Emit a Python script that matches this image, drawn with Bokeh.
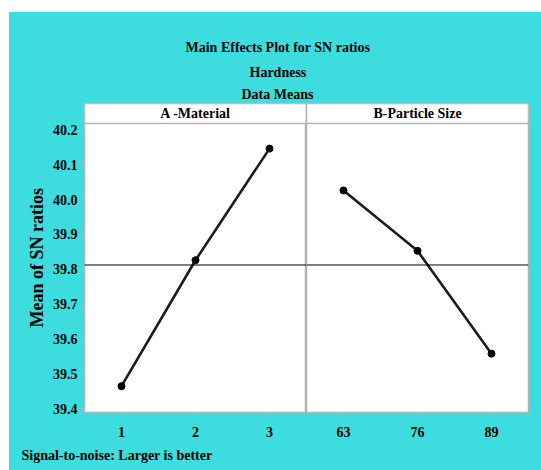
from bokeh.plotting import figure
from bokeh.models import Range1d, FactorRange, FixedTicker, Span, Title, NumeralTickFormatter
from bokeh.layouts import row, column
from bokeh.core.properties import value
from bokeh.embed import file_html
from bokeh.resources import INLINE

# ---- data ----
material_levels = ["1", "2", "3"]
material_sn = [39.465, 39.826, 40.146]
size_levels = ["63", "76", "89"]
size_sn = [40.026, 39.853, 39.558]
panel_names = ["A -Material", "B-Particle Size"]
y_ticks = [39.4, 39.5, 39.6, 39.7, 39.8, 39.9, 40.0, 40.1, 40.2]
title_lines = ["Main Effects Plot for SN ratios", "Hardness", "Data Means"]
y_label = "Mean of SN ratios"
footer_text = "Signal-to-noise: Larger is better"

grand_mean = sum(material_sn + size_sn) / len(material_sn + size_sn)

CYAN = "#3DDDDF"
GRAY = "#b4b4b4"
FONT = "Liberation Serif"


def style_title(t):
    t.text_font = FONT
    t.text_font_style = "bold"
    t.text_color = "black"
    return t


# ---- header (titles + strips) ----
hdr = figure(width=532, height=111, x_range=FactorRange(factors=panel_names), y_range=Range1d(0, 1),
             output_backend="svg", toolbar_location=None,
             x_axis_location=None, y_axis_location=None,
             min_border_left=75, min_border_right=13, min_border_top=91, min_border_bottom=0)
hdr.border_fill_color = CYAN
hdr.background_fill_color = "white"
hdr.outline_line_color = GRAY
hdr.outline_line_width = 1.5
hdr.grid.visible = False
hdr.vbar(x=panel_names, top=1, bottom=0, width=1, fill_color="white", line_color=GRAY, line_width=1.5)
hdr.text(x=panel_names, y=[0.5, 0.5], text=panel_names, text_font=value(FONT), text_font_style="bold",
         text_font_size="14px", text_align="center", text_baseline="middle", text_color="black")
# first added sits closest to the frame; left-aligned with offsets so they centre on the panel
for line, so, off in zip(reversed(title_lines), [3, 8, 7], [157, 165, 101]):
    hdr.add_layout(style_title(Title(text=line, align="left", offset=off, standoff=so,
                                     text_font_size="14px")), "above")


def panel(levels, vals, width, left, right, show_y):
    p = figure(width=width, height=347, x_range=FactorRange(factors=levels),
               y_range=Range1d(39.3894, 40.218),
               output_backend="svg", toolbar_location=None,
               y_axis_location="left" if show_y else None,
               min_border_left=left, min_border_right=right, min_border_top=0, min_border_bottom=58)
    p.border_fill_color = CYAN
    p.background_fill_color = "white"
    p.outline_line_color = GRAY
    p.outline_line_width = 1.5
    p.grid.visible = False
    for ax in p.axis:
        ax.axis_line_color = GRAY
        ax.major_tick_line_color = GRAY
        ax.major_tick_out = 4
        ax.major_tick_in = 0
        ax.minor_tick_line_color = None
        ax.major_label_text_font = FONT
        ax.major_label_text_font_style = "bold"
        ax.major_label_text_font_size = "14px"
        ax.major_label_text_color = "black"
    p.xaxis.major_label_standoff = 10
    if show_y:
        p.yaxis.ticker = FixedTicker(ticks=y_ticks)
        p.yaxis.formatter = NumeralTickFormatter(format="0.0")
        p.yaxis.major_label_standoff = 3
    p.add_layout(Span(location=grand_mean, dimension="width", line_color="black", line_width=1))
    p.line(x=levels, y=vals, line_color="#1c1c1c", line_width=2.6)
    p.scatter(x=levels, y=vals, size=7, fill_color="black", line_color="black")
    return p


pa = panel(material_levels, material_sn, 297, 75, 0, True)
pb = panel(size_levels, size_sn, 235, 0, 13, False)

pa.add_layout(style_title(Title(text=y_label, align="left", offset=85, standoff=6,
                                text_font_size="18px")), "left")
pa.add_layout(style_title(Title(text=footer_text, align="left", offset=-63, standoff=13,
                                text_font_size="14px")), "below")

layout = column(hdr, row(pa, pb, styles={"background-color": CYAN}),
                margin=(12, 0, 0, 9), styles={"background-color": CYAN})

open("out.html", "w").write(file_html(layout, INLINE))
